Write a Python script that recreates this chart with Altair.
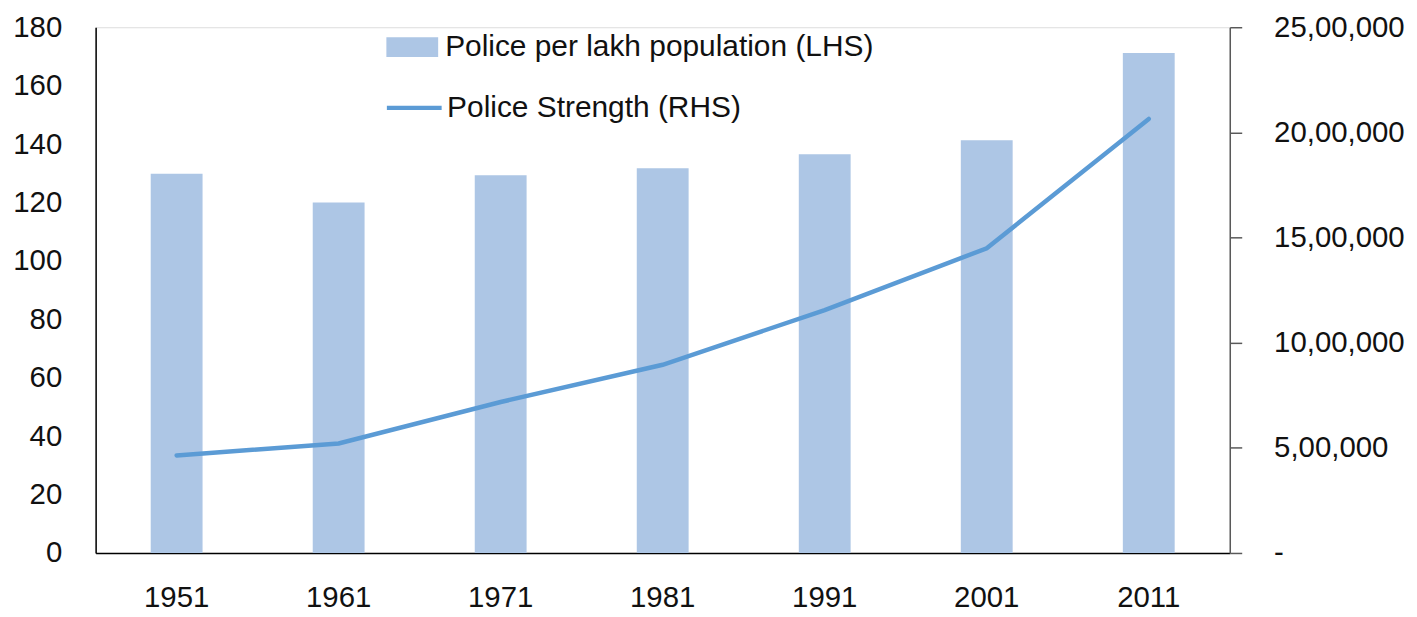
import altair as alt
import pandas as pd

years = ["1951", "1961", "1971", "1981", "1991", "2001", "2011"]
police_per_lakh = [129.8, 120.0, 129.3, 131.7, 136.5, 141.3, 171.2]
police_strength = [464000, 521000, 718000, 895000, 1155000, 1449000, 2064000]

bar_name = "Police per lakh population (LHS)"
line_name = "Police Strength (RHS)"

df = pd.DataFrame({
    "year": years,
    "per_lakh": police_per_lakh,
    "strength": police_strength,
    "s1": [bar_name] * len(years),
    "s2": [line_name] * len(years),
})

FONT = "Liberation Sans"
FS = 29.5
LFS = 30
TXT = "#111111"

x = alt.X("year:O", title=None,
          scale=alt.Scale(paddingInner=0.68, paddingOuter=0.34),
          axis=alt.Axis(labelAngle=0, ticks=False, labelPadding=31,
                        labelFontSize=FS, labelFont=FONT, labelColor=TXT,
                        domainColor="#000000", domainWidth=1.5))

bars = alt.Chart(df).mark_bar(color="#adc6e5").encode(
    x=x,
    y=alt.Y("per_lakh:Q", title=None,
            scale=alt.Scale(domain=[0, 180], nice=False),
            axis=alt.Axis(values=list(range(0, 181, 20)), ticks=False, grid=False,
                          labelPadding=34, labelFontSize=FS, labelFont=FONT,
                          labelColor=TXT, domainColor="#000000", domainWidth=1.5)),
    color=alt.Color("s1:N", scale=alt.Scale(domain=[bar_name], range=["#adc6e5"]),
                    legend=alt.Legend(title=None, orient="none", legendX=292, legendY=-6,
                                      padding=0, symbolType="M-1,-0.385H1V0.385H-1Z",
                                      symbolSize=2704, symbolOpacity=1,
                                      symbolStrokeWidth=0, labelLimit=1000,
                                      labelFontSize=LFS, labelFont=FONT, labelColor=TXT,
                                      labelOffset=7)),
)

line = alt.Chart(df).mark_line(strokeWidth=4.5, strokeCap="round").encode(
    x=x,
    y=alt.Y("strength:Q", title=None,
            scale=alt.Scale(domain=[0, 2500000], nice=False),
            axis=alt.Axis(orient="right", values=[0, 500000, 1000000, 1500000, 2000000, 2500000],
                          grid=False, tickSize=12, tickColor="#595959", domainColor="#595959",
                          domainWidth=1.5, tickWidth=1.5,
                          labelPadding=32, labelFontSize=FS, labelFont=FONT, labelColor=TXT,
                          labelExpr="datum.value == 0 ? '-' : (datum.value / 100000) + ',00,000'")),
    stroke=alt.Stroke("s2:N", scale=alt.Scale(domain=[line_name], range=["#5b9bd5"]),
                      legend=alt.Legend(title=None, orient="none", legendX=290, legendY=51,
                                        padding=0, symbolType="stroke", symbolSize=3025,
                                        symbolStrokeWidth=4.5, labelLimit=1000,
                                        labelFontSize=LFS, labelFont=FONT, labelColor=TXT,
                                        labelOffset=3)),
)

chart = alt.layer(bars, line).resolve_scale(y="independent").properties(
    width=1139, height=528,
    autosize=alt.AutoSizeParams(type="none"),
    padding={"left": 88, "top": 18, "right": 180, "bottom": 64},
).configure_view(stroke=None).configure(background="white")

chart.save("out.html", embed_options={"renderer": "svg", "actions": False})
